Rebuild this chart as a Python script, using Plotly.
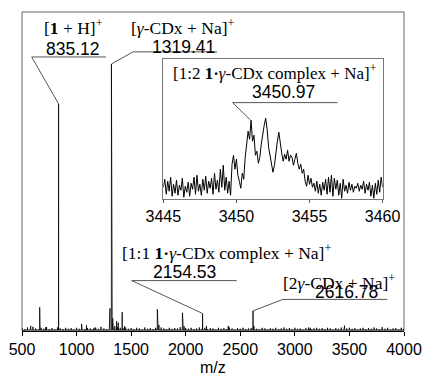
import plotly.graph_objects as go

# ---------------- data ----------------
# main spectrum: labelled / visible peaks (m/z, relative intensity)
PEAK_MZ = [580, 662, 665, 718, 835.12, 1046, 1091, 1160, 1223, 1306, 1319.41, 1322,
           1326, 1331, 1336, 1367, 1382, 1418, 1440, 1740, 1746, 1756, 1970, 1976,
           1985, 2154.53, 2190, 2390, 2616.78, 2625, 3140, 3455, 3800]
PEAK_INT = [1.6, 7.4, 3.6, 1.2, 71.2, 2.2, 1.8, 1.0, 1.3, 7.1, 83.7, 22.9,
            8.0, 4.0, 2.9, 3.1, 2.6, 5.9, 1.5, 6.8, 2.0, 1.9, 5.7, 2.0,
            1.5, 5.5, 1.6, 1.6, 6.3, 1.5, 1.0, 1.7, 1.2]

# baseline noise sticks, every 25 m/z from 500 to 4000
NOISE_MZ_START = 500
NOISE_MZ_STEP = 25
NOISE_INT = [0.9, 0.6, 1.1, 0.7, 1.3, 0.8, 0.5, 1.0, 0.7, 1.2,
             0.6, 0.9, 0.5, 1.1, 0.8, 0.6, 1.0, 0.7, 0.9, 0.5,
             1.0, 0.7, 1.2, 0.6, 0.9, 0.8, 0.5, 1.1, 0.7, 0.9,
             0.8, 0.6, 1.4, 1.8, 1.5, 1.2, 1.0, 0.9, 1.1, 0.7,
             0.9, 0.6, 1.0, 0.8, 0.5, 1.1, 0.7, 0.9, 0.6, 1.0,
             1.4, 1.1, 0.8, 0.6, 1.0, 0.7, 0.9, 0.8, 1.2, 1.3,
             0.9, 0.7, 1.0, 0.6, 0.8, 1.1, 0.7, 1.0, 0.6, 0.9,
             0.8, 0.5, 1.0, 0.7, 0.9, 0.6, 1.1, 0.8, 0.5, 0.9,
             0.7, 1.0, 0.6, 0.8, 0.9, 1.1, 0.7, 0.6, 1.0, 0.8,
             0.5, 0.9, 0.7, 1.0, 0.6, 0.8, 1.1, 0.7, 0.9, 0.6,
             1.0, 0.7, 0.8, 0.5, 0.9, 1.1, 0.6, 0.8, 1.0, 0.7,
             0.9, 0.6, 1.0, 0.8, 0.5, 0.9, 0.7, 1.1, 0.6, 0.8,
             1.0, 0.7, 0.9, 0.5, 0.8, 1.0, 0.6, 0.9, 0.7, 1.1,
             0.8, 0.6, 0.9, 0.7, 1.0, 0.5, 0.8, 0.9, 0.6, 1.0, 0.7]
BASELINE = 0.3

# inset spectrum (m/z 3445.0 .. 3460.0, step 0.1), intensity a.u.
INSET_MZ_START = 3445.0
INSET_MZ_STEP = 0.1
INSET_INT = [12, 20, 5, 18, 8, 22, 3, 15, 6, 19,
             4, 14, 9, 21, 2, 13, 7, 17, 3, 16,
             10, 22, 5, 24, 8, 15, 4, 20, 9, 23,
             6, 18, 11, 21, 5, 26, 10, 19, 7, 30,
             12, 34, 9, 22, 6, 18, 4, 35, 44, 30,
             40, 24, 18, 11, 26, 20, 42, 55, 68, 60,
             79, 58, 64, 44, 48, 36, 42, 55, 66, 74,
             81, 70, 52, 44, 36, 27, 34, 48, 58, 67,
             55, 46, 38, 45, 40, 49, 38, 44, 42, 34,
             40, 46, 36, 30, 35, 26, 30, 18, 13, 24,
             15, 21, 12, 16, 8, 18, 6, 15, 4, 17,
             9, 20, 5, 22, 7, 24, 3, 21, 10, 19,
             4, 16, 1, 20, 8, 14, 6, 17, 9, 15,
             7, 13, 11, 16, 8, 14, 10, 18, 6, 15,
             9, 17, 3, 14, 1, 16, 5, 19, 7, 22,
             12]

MAIN_TICKS = [500, 1000, 1500, 2000, 2500, 3000, 3500, 4000]
INSET_TICKS = [3445, 3450, 3455, 3460]

# ---------------- build traces ----------------
sticks = list(zip(PEAK_MZ, PEAK_INT))
sticks += [(NOISE_MZ_START + NOISE_MZ_STEP * i, v) for i, v in enumerate(NOISE_INT)]
sticks.sort()
mx, my = [], []
for mz, inten in sticks:
    mx += [mz - 0.8, mz, mz + 0.8]
    my += [BASELINE, inten, BASELINE]

ix = [round(INSET_MZ_START + INSET_MZ_STEP * i, 2) for i in range(len(INSET_INT))]

fig = go.Figure()
fig.add_trace(go.Scatter(x=mx, y=my, mode='lines', line=dict(color='black', width=0.8),
                         xaxis='x', yaxis='y', hoverinfo='skip'))
fig.add_trace(go.Scatter(x=ix, y=INSET_INT, mode='lines', line=dict(color='black', width=1),
                         xaxis='x2', yaxis='y2', hoverinfo='skip'))

SERIF = "Liberation Serif"
SANS = "Liberation Sans"
LC = "#555555"

fig.update_layout(
    width=424, height=377,
    margin=dict(l=22, r=20, t=12, b=46, autoexpand=False),
    paper_bgcolor='white', plot_bgcolor='white',
    showlegend=False,
    xaxis=dict(domain=[0, 1], range=[500, 4000], tickvals=MAIN_TICKS,
               ticks='outside', ticklen=4, tickcolor='black',
               showline=True, linecolor='black', linewidth=1.2,
               showgrid=False, zeroline=False, automargin=False,
               tickfont=dict(family=SANS, size=16, color='black')),
    yaxis=dict(domain=[0, 1], range=[0, 100], visible=False, fixedrange=True),
    xaxis2=dict(domain=[0.370, 0.944], anchor='y2', range=[3445, 3460], tickvals=INSET_TICKS,
                ticks='outside', ticklen=3, tickcolor='#555',
                showline=True, mirror=True, linecolor='#777777', linewidth=1,
                showgrid=False, zeroline=False, automargin=False,
                tickfont=dict(family=SANS, size=16, color='black')),
    yaxis2=dict(domain=[0.413, 0.852], anchor='x2', range=[0, 140],
                showline=True, mirror=True, linecolor='#777777', linewidth=1,
                showticklabels=False, ticks='', showgrid=False, zeroline=False),
)

shapes = [dict(type='rect', xref='paper', yref='paper', x0=0, x1=1, y0=0, y1=1,
               line=dict(color='#666666', width=1), layer='below')]

def seg(x0, y0, x1, y1, xr='x', yr='y'):
    shapes.append(dict(type='line', xref=xr, yref=yr, x0=x0, y0=y0, x1=x1, y1=y1,
                       line=dict(color=LC, width=1)))

# [1+H]+ 835.12
seg(589, 85.9, 1270, 85.9)
seg(589, 85.9, PEAK_MZ[4], PEAK_INT[4])
# [γ-CDx+Na]+ 1319.41
seg(1517, 87.5, 2287, 87.5)
seg(1517, 87.5, PEAK_MZ[10], PEAK_INT[10])
# 1:1 complex 2154.53
seg(1505, 15.8, 2467, 15.8)
seg(1505, 15.8, PEAK_MZ[25], PEAK_INT[25])
# 2γ-CDx 2616.78
seg(2889, 9.9, 3847, 9.9)
seg(2889, 9.9, PEAK_MZ[28], PEAK_INT[28])
# inset 3450.97
seg(3449.74, 96.6, 3456.92, 96.6, 'x2', 'y2')
seg(3449.74, 96.6, 3450.97, 79, 'x2', 'y2')
fig.update_layout(shapes=shapes)

anns = []
def txt(x, y, s, fam, size=17.5, xr='x', yr='y'):
    anns.append(dict(x=x, y=y, xref=xr, yref=yr, text=s, showarrow=False,
                     xanchor='center', yanchor='middle',
                     font=dict(family=fam, size=size, color='black')))

txt(976, 95.4, "[<b>1</b> + H]<sup>+</sup>", SERIF)
txt(967, 88.3, "835.12", SANS)
txt(1966, 95.4, "[<i>γ</i>-CDx + Na]<sup>+</sup>", SERIF)
txt(1984, 89.1, "1319.41", SANS)
txt(2376, 24.9, "[1:1 <b>1·</b><i>γ</i>-CDx complex + Na]<sup>+</sup>", SERIF)
txt(1993, 18.6, "2154.53", SANS)
txt(3405, 15.4, "[2<i>γ</i>-CDx + Na]<sup>+</sup>", SERIF)
txt(3469, 12.3, "2616.78", SANS)
txt(3452.64, 127.3, "[1:2 <b>1·</b><i>γ</i>-CDx complex + Na]<sup>+</sup>", SERIF, 17, 'x2', 'y2')
txt(3453.25, 107.5, "3450.97", SANS, 17.5, 'x2', 'y2')
txt(3452.64, -23.7, "m/z", SANS, 16, 'x2', 'y2')
# main axis title
anns.append(dict(x=0.5, y=-0.113, xref='paper', yref='paper', text='m/z', showarrow=False,
                 xanchor='center', yanchor='middle',
                 font=dict(family=SANS, size=16, color='black')))
fig.update_layout(annotations=anns)

fig.write_html("out.html")
